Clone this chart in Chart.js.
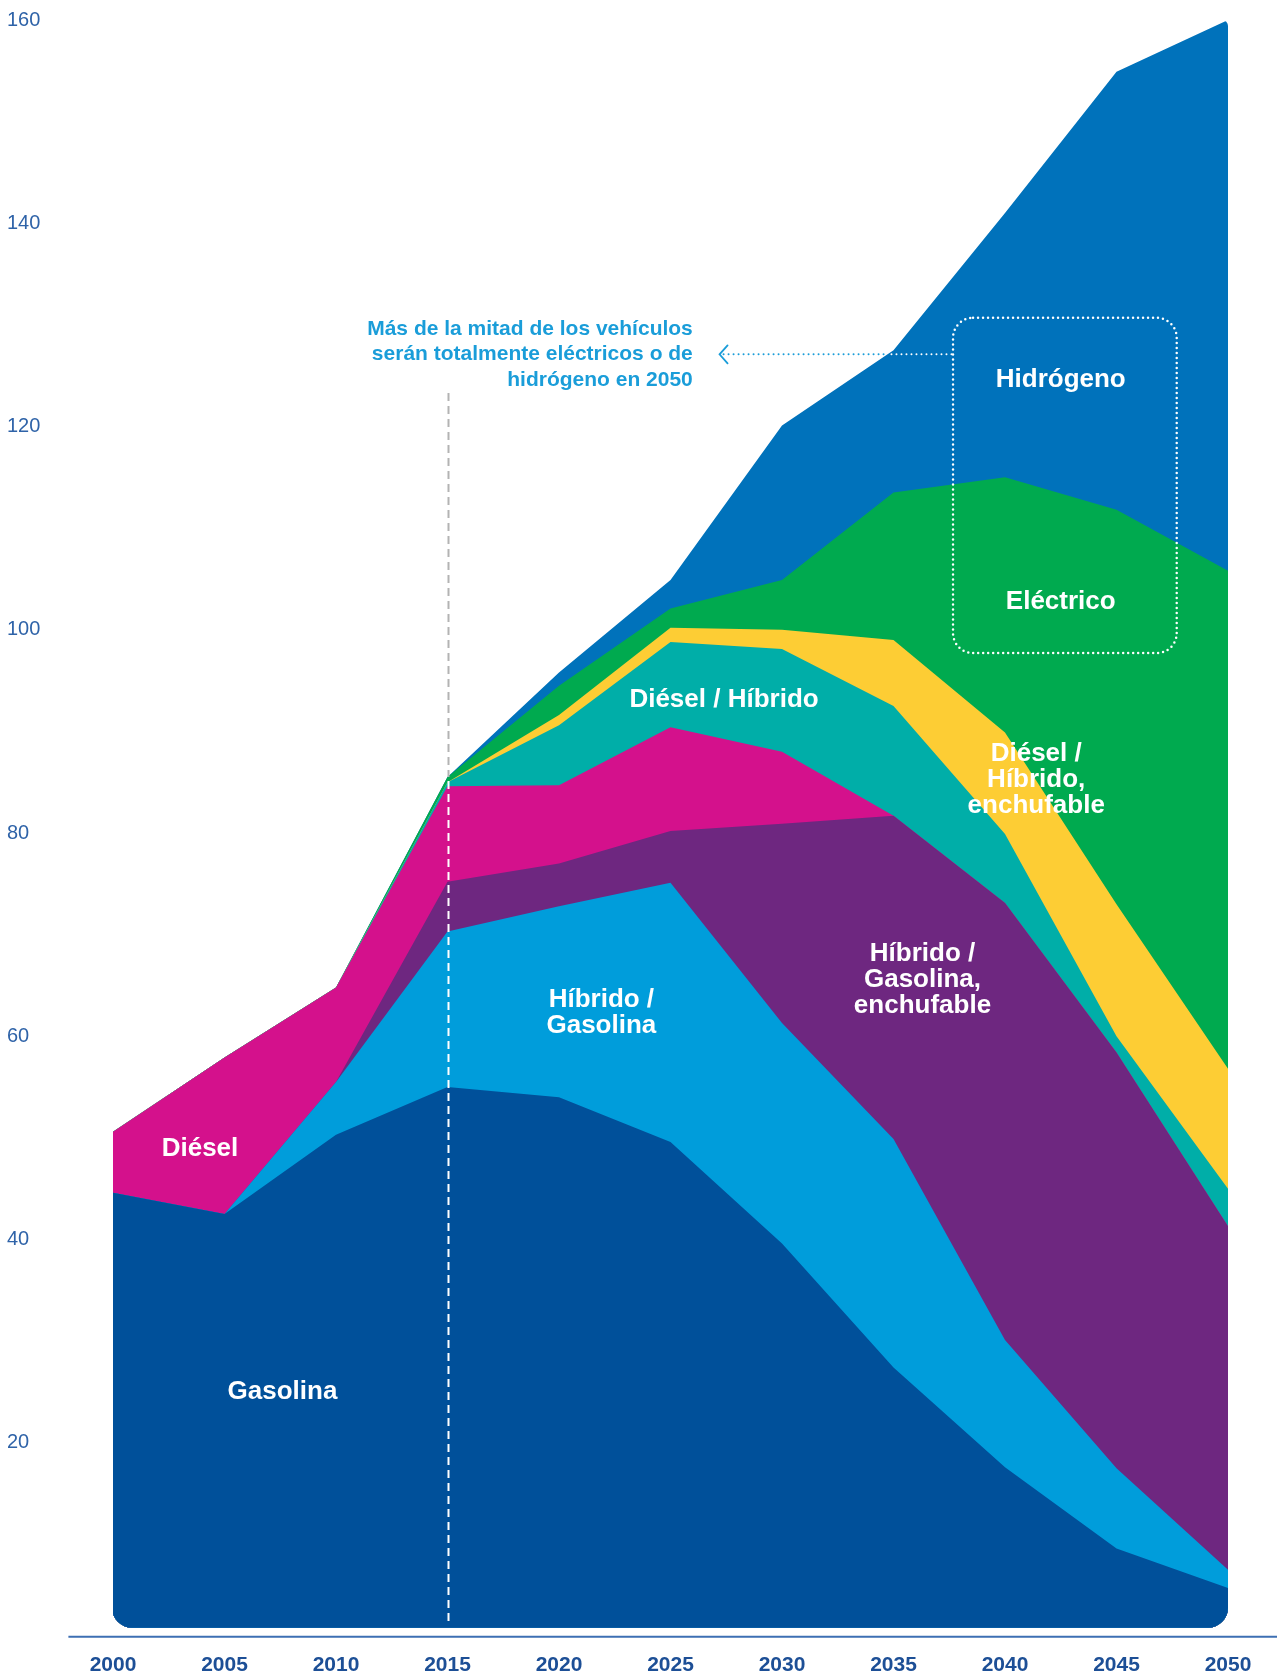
<!DOCTYPE html>
<html lang="es">
  <head>
    <meta charset="UTF-8" />
    <title>Parque de vehículos por tecnología 2000-2050</title>
    <script src="https://cdn.jsdelivr.net/npm/chart.js"></script>
    <style>
      body {
        margin: 0;
        background: #fff;
      }
      .chart-container {
        position: relative;
        width: 1277px;
        height: 1673px;
      }
    </style>
  </head>
  <body>
    <div class="chart-container">
      <canvas id="areaChart"></canvas>
    </div>

    <script>
      const years = ["2000", "2005", "2010", "2015", "2020", "2025", "2030", "2035", "2040", "2045", "2050"];
      const yTicks = [20, 40, 60, 80, 100, 120, 140, 160];

      // series, bottom to top of the stack
      const gasolina = [44.6, 42.5, 50.3, 55.0, 54.0, 49.6, 39.6, 27.4, 17.6, 9.6, 5.7];
      const hibridoGasolina = [0, 0, 5.2, 15.3, 18.8, 25.5, 21.7, 22.5, 12.5, 7.9, 1.8];
      const hibridoGasolinaEnchufable = [0, 0, 0, 4.9, 4.2, 5.1, 19.6, 31.8, 43.0, 40.9, 33.8];
      const diesel = [6.0, 15.4, 9.3, 9.4, 7.7, 10.2, 7.1, 0, 0, 0, 0];
      const dieselHibrido = [0, 0, 0, 0.4, 5.9, 8.4, 10.1, 10.8, 6.8, 1.6, 3.7];
      const dieselHibridoEnchufable = [0, 0, 0, 0, 1.0, 1.4, 1.9, 6.5, 10.0, 13.0, 11.8];
      const electrico = [0, 0, 0, 0.5, 2.9, 1.9, 4.9, 14.5, 25.1, 38.8, 49.0];
      const hidrogeno = [0, 0, 0, 0, 1.3, 2.8, 15.2, 14.0, 26.0, 43.1, 54.2];

      const series = [
        { name: "Gasolina", data: gasolina, color: "#00509a" },
        { name: "Híbrido / Gasolina", data: hibridoGasolina, color: "#009ddb" },
        { name: "Híbrido / Gasolina, enchufable", data: hibridoGasolinaEnchufable, color: "#6e2780" },
        { name: "Diésel", data: diesel, color: "#d4118c" },
        { name: "Diésel / Híbrido", data: dieselHibrido, color: "#00aea8" },
        { name: "Diésel / Híbrido, enchufable", data: dieselHibridoEnchufable, color: "#fdcd34" },
        { name: "Eléctrico", data: electrico, color: "#00aa4f" },
        { name: "Hidrógeno", data: hidrogeno, color: "#0072bb" },
      ];

      // labels inside the areas: [text lines, year, value]
      const areaLabels = [
        [["Diésel"], 2003.9, 48.9],
        [["Gasolina"], 2007.6, 25.0],
        [["Híbrido /", "Gasolina"], 2021.9, 62.3],
        [["Híbrido /", "Gasolina,", "enchufable"], 2036.3, 65.6],
        [["Diésel / Híbrido"], 2027.4, 93.1],
        [["Diésel /", "Híbrido,", "enchufable"], 2041.4, 85.2],
        [["Eléctrico"], 2042.5, 102.7],
        [["Hidrógeno"], 2042.5, 124.6],
      ];
      const noteLines = [
        "Más de la mitad de los vehículos",
        "serán totalmente eléctricos o de",
        "hidrógeno en 2050",
      ];

      const LIGHT_BLUE = "#1a9dd9";
      const FONT = '"Liberation Sans", Arial, sans-serif';
      Chart.defaults.font.family = FONT;

      const totals = years.map((_, i) => series.reduce((s, d) => s + d.data[i], 0));

      const decor = {
        id: "decor",
        beforeDatasetsDraw(chart) {
          const { ctx, chartArea, scales } = chart;
          const bottom = scales.y.getPixelForValue(1.8);
          ctx.save();
          ctx.beginPath();
          ctx.roundRect(
            chartArea.left - 1,
            chartArea.top,
            chartArea.right - chartArea.left + 1,
            bottom - chartArea.top,
            [0, 6, 20, 20]
          );
          ctx.clip();
        },
        afterDatasetsDraw(chart) {
          const { ctx, scales } = chart;
          ctx.restore();
          const X = (yr) => scales.x.getPixelForValue((yr - 2000) / 5);
          const Y = (v) => scales.y.getPixelForValue(v);

          // 2015 marker
          const x15 = X(2015) + 1;
          ctx.save();
          ctx.lineWidth = 2;
          ctx.setLineDash([8, 5]);
          ctx.strokeStyle = "#b3b3b3";
          ctx.beginPath();
          ctx.moveTo(x15, Y(123.3));
          ctx.lineTo(x15, Y(totals[3]));
          ctx.stroke();
          ctx.strokeStyle = "#fff";
          ctx.beginPath();
          ctx.moveTo(x15, Y(totals[3]) + 4);
          ctx.lineTo(x15, Y(2.1));
          ctx.stroke();
          ctx.restore();

          // area names
          ctx.save();
          ctx.fillStyle = "#fff";
          ctx.font = "bold 26px " + FONT;
          ctx.textAlign = "center";
          ctx.textBaseline = "middle";
          areaLabels.forEach(([lines, yr, v]) => {
            const lh = 26;
            const y0 = Y(v) - ((lines.length - 1) * lh) / 2;
            lines.forEach((t, k) => ctx.fillText(t, X(yr), y0 + k * lh));
          });
          ctx.restore();

          // dotted box round Hidrógeno / Eléctrico
          const bx = X(2037.67);
          const by = Y(130.7);
          ctx.save();
          ctx.strokeStyle = "#fff";
          ctx.lineWidth = 2.5;
          ctx.lineCap = "round";
          ctx.setLineDash([0, 5]);
          ctx.beginPath();
          ctx.roundRect(bx, by, X(2047.7) - bx, Y(97.7) - by, 20);
          ctx.stroke();

          // leader from box to note
          const yA = Y(127.1);
          const tipX = X(2027.2);
          let edgeX = bx;
          for (let i = 0; i < totals.length - 1; i++) {
            if (totals[i] <= 127.1 && totals[i + 1] > 127.1) {
              const f = (127.1 - totals[i]) / (totals[i + 1] - totals[i]);
              edgeX = X(2000 + (i + f) * 5);
            }
          }
          ctx.lineWidth = 2;
          ctx.strokeStyle = LIGHT_BLUE;
          ctx.beginPath();
          ctx.moveTo(tipX + 4, yA);
          ctx.lineTo(edgeX, yA);
          ctx.stroke();
          ctx.strokeStyle = "#fff";
          ctx.beginPath();
          ctx.moveTo(edgeX + 4, yA);
          ctx.lineTo(bx, yA);
          ctx.stroke();
          ctx.setLineDash([]);
          ctx.strokeStyle = LIGHT_BLUE;
          ctx.lineWidth = 1.8;
          ctx.beginPath();
          ctx.moveTo(tipX + 8, yA - 9);
          ctx.lineTo(tipX, yA);
          ctx.lineTo(tipX + 8, yA + 9);
          ctx.stroke();

          ctx.fillStyle = LIGHT_BLUE;
          ctx.font = "bold 21px " + FONT;
          ctx.textAlign = "right";
          ctx.textBaseline = "middle";
          noteLines.forEach((t, k) => ctx.fillText(t, X(2026.0), Y(129.6) + k * 25.5));
          ctx.restore();

          // axis line
          ctx.save();
          ctx.strokeStyle = "#3d6fb3";
          ctx.lineWidth = 2;
          ctx.beginPath();
          ctx.moveTo(X(1998), Y(0.9));
          ctx.lineTo(chart.width, Y(0.9));
          ctx.stroke();
          ctx.restore();
        },
      };

      const ctxArea = document.getElementById("areaChart").getContext("2d");
      new Chart(ctxArea, {
        type: "line",
        data: {
          labels: years,
          datasets: series.map((s) => ({
            label: s.name,
            data: s.data,
            backgroundColor: s.color,
            borderColor: "rgba(0,0,0,0)",
            borderWidth: 0,
            pointRadius: 0,
            tension: 0,
            fill: "origin",
          })),
        },
        options: {
          responsive: true,
          maintainAspectRatio: false,
          animation: false,
          layout: { padding: { left: 7, top: 20, right: 49, bottom: 0 } },
          plugins: { legend: { display: false }, tooltip: { enabled: false } },
          scales: {
            x: {
              grid: { display: false, drawTicks: false },
              border: { display: false },
              ticks: {
                padding: 7,
                autoSkip: false,
                maxRotation: 0,
                color: "#1d4f96",
                font: { size: 21, weight: "bold" },
              },
              afterFit(scale) {
                scale.height = 27;
              },
            },
            y: {
              stacked: true,
              min: 0,
              max: 160,
              grid: { display: false, drawTicks: false },
              border: { display: false },
              afterBuildTicks(scale) {
                scale.ticks = yTicks.map((v) => ({ value: v }));
              },
              ticks: {
                crossAlign: "far",
                color: "#2f63a8",
                font: { size: 20 },
              },
              afterFit(scale) {
                scale.width = 106;
              },
            },
          },
        },
        plugins: [decor],
      });
    </script>
  </body>
</html>
